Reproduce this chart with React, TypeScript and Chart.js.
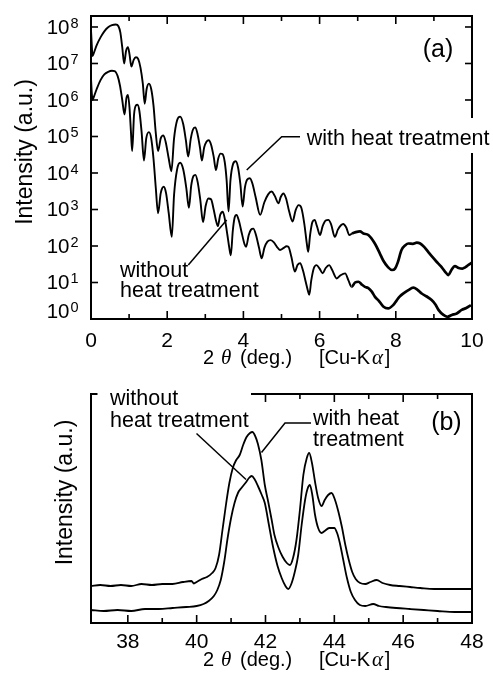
import React, { useEffect, useRef } from 'react';
import { Chart, registerables } from 'chart.js';
Chart.register(...registerables);

// ---------- Panel (a): low-angle XRR, log intensity ----------
const xrrAngleWith = [0, 0.02, 0.04, 0.08, 0.15, 0.25, 0.35, 0.45, 0.55, 0.65, 0.72, 0.77, 0.82, 0.87, 0.92, 0.97, 1.01, 1.06, 1.12, 1.18, 1.24, 1.3, 1.36, 1.41, 1.46, 1.52, 1.58, 1.64, 1.7, 1.76, 1.83, 1.9, 1.96, 2.04, 2.11, 2.18, 2.26, 2.34, 2.42, 2.49, 2.55, 2.62, 2.68, 2.74, 2.8, 2.86, 2.91, 2.97, 3.03, 3.09, 3.15, 3.22, 3.28, 3.34, 3.4, 3.45, 3.51, 3.56, 3.61, 3.66, 3.73, 3.8, 3.86, 3.92, 3.98, 4.04, 4.1, 4.17, 4.24, 4.32, 4.44, 4.55, 4.65, 4.74, 4.82, 4.92, 4.98, 5.05, 5.12, 5.2, 5.29, 5.37, 5.45, 5.52, 5.6, 5.66, 5.7, 5.75, 5.81, 5.87, 5.93, 6.01, 6.08, 6.16, 6.23, 6.3, 6.4, 6.48, 6.56, 6.62, 6.7, 6.78, 6.85, 6.95, 7.06, 7.15, 7.28, 7.45, 7.58, 7.67, 7.8, 7.9, 7.98, 8.05, 8.15, 8.25, 8.33, 8.45, 8.55, 8.64, 8.75, 8.85, 8.96, 9.07, 9.18, 9.29, 9.38, 9.46, 9.55, 9.65, 9.75, 9.82, 9.9, 10];
const xrrIntensityWith = [8.3e7, 3.2e7, 1.6e7, 2.0e7, 3.2e7, 5.2e7, 7.6e7, 9.8e7, 1.12e8, 1.17e8, 1.05e8, 7.1e7, 2.8e7, 1.0e7, 2.2e7, 2.8e7, 1.8e7, 8.3e6, 1.26e7, 1.48e7, 1.32e7, 7.6e6, 2.8e6, 7.9e5, 2.0e6, 2.8e6, 2.0e6, 7.1e5, 1.26e5, 4.0e4, 8.9e4, 1.07e5, 7.1e4, 2.5e4, 1.12e4, 8.9e4, 2.8e5, 3.5e5, 2.2e5, 7.9e4, 2.8e4, 8.9e4, 1.58e5, 1.78e5, 1.12e5, 5.0e4, 2.2e4, 5.0e4, 7.2e4, 7.9e4, 6.0e4, 2.8e4, 1.2e4, 2.5e4, 3.4e4, 3.3e4, 2.0e4, 6.3e3, 8.9e2, 6.3e3, 1.78e4, 2.1e4, 1.41e4, 5.0e3, 1.2e3, 4.0e3, 6.6e3, 7.2e3, 5.0e3, 2.2e3, 7.1e2, 1.58e3, 2.6e3, 3.1e3, 2.4e3, 1.48e3, 2.2e3, 2.75e3, 2.0e3, 8.9e2, 4.7e2, 9.5e2, 1.32e3, 1.12e3, 4.0e2, 1.26e2, 69, 2.0e2, 4.5e2, 5.2e2, 3.5e2, 2.0e2, 3.5e2, 5.0e2, 5.2e2, 4.0e2, 1.78e2, 2.8e2, 3.7e2, 4.0e2, 3.2e2, 2.0e2, 2.2e2, 2.4e2, 2.5e2, 2.2e2, 2.0e2, 1.17e2, 63, 40, 26, 22, 24, 35, 78, 105, 117, 115, 123, 117, 93, 69, 50, 37, 28, 20, 16, 22, 28, 25, 24, 26, 30, 35];

const xrrAngleWithout = [0, 0.02, 0.04, 0.08, 0.15, 0.25, 0.35, 0.45, 0.55, 0.62, 0.7, 0.76, 0.82, 0.88, 0.93, 0.97, 1.01, 1.05, 1.08, 1.13, 1.18, 1.22, 1.27, 1.33, 1.39, 1.45, 1.52, 1.58, 1.64, 1.7, 1.76, 1.83, 1.91, 1.97, 2.04, 2.12, 2.18, 2.26, 2.34, 2.42, 2.5, 2.57, 2.63, 2.69, 2.74, 2.8, 2.87, 2.94, 3.01, 3.08, 3.15, 3.22, 3.28, 3.33, 3.39, 3.46, 3.52, 3.58, 3.63, 3.67, 3.72, 3.77, 3.82, 3.88, 3.96, 4.03, 4.07, 4.14, 4.2, 4.26, 4.33, 4.41, 4.48, 4.55, 4.63, 4.72, 4.8, 4.88, 4.96, 5.06, 5.13, 5.18, 5.26, 5.35, 5.42, 5.49, 5.56, 5.64, 5.7, 5.73, 5.78, 5.85, 5.92, 6.0, 6.08, 6.16, 6.25, 6.33, 6.45, 6.55, 6.67, 6.76, 6.84, 6.93, 7.02, 7.1, 7.19, 7.27, 7.37, 7.45, 7.55, 7.67, 7.8, 7.93, 8.02, 8.1, 8.22, 8.33, 8.46, 8.57, 8.68, 8.8, 8.94, 9.04, 9.12, 9.25, 9.36, 9.47, 9.6, 9.73, 9.85, 9.97];
const xrrIntensityWithout = [4.0e6, 1.58e6, 1.0e6, 1.26e6, 2.0e6, 3.5e6, 5.0e6, 5.9e6, 6.3e6, 6.2e6, 4.5e6, 2.5e6, 1.0e6, 4.0e5, 1.12e6, 1.38e6, 6.3e5, 1.26e5, 4.0e4, 4.0e5, 7.1e5, 7.4e5, 5.0e5, 1.26e5, 2.2e4, 8.9e4, 1.32e5, 8.9e4, 2.5e4, 4.0e3, 7.9e2, 2.8e3, 4.2e3, 2.8e3, 7.9e2, 1.78e2, 2.5e3, 1.26e4, 1.9e4, 1.26e4, 4.0e3, 1.12e3, 4.5e3, 8.3e3, 8.9e3, 5.6e3, 1.78e3, 4.5e2, 1.26e3, 2.0e3, 1.9e3, 1.0e3, 5.0e2, 3.5e2, 7.1e2, 8.7e2, 5.0e2, 2.0e2, 89, 56, 2.5e2, 6.0e2, 7.1e2, 5.0e2, 2.2e2, 1.12e2, 95, 2.0e2, 2.8e2, 3.0e2, 2.0e2, 89, 46, 89, 1.32e2, 1.45e2, 1.26e2, 95, 78, 89, 98, 95, 50, 20, 30, 34, 22, 10, 5.6, 4.6, 11.2, 25, 30, 24, 17.8, 25, 30, 22, 12.9, 15.8, 17.8, 11.2, 7.6, 10, 10.5, 8.9, 7.6, 7.1, 5.6, 4.1, 3.2, 2.2, 1.95, 2.4, 3.2, 4.1, 5.2, 6.2, 7.2, 6.3, 5.0, 4.2, 3.3, 2.5, 1.78, 1.29, 1.15, 1.29, 1.41, 1.78, 2.0, 2.4];

const xrrMinorTicks = [1, 2, 3, 4, 5, 6, 7, 8, 9];
const xrrTickLabels = [0, 2, 4, 6, 8, 10];
const xrrDecadeExponents = [0, 1, 2, 3, 4, 5, 6, 7, 8];

// ---------- Panel (b): XRD, linear intensity ----------
const xrdAngleWith = [36.93, 37.2, 37.5, 37.8, 38.1, 38.4, 38.7, 39.0, 39.3, 39.6, 39.85, 39.92, 40.0, 40.15, 40.3, 40.45, 40.55, 40.65, 40.75, 40.85, 40.95, 41.05, 41.15, 41.25, 41.35, 41.45, 41.55, 41.62, 41.7, 41.78, 41.88, 41.98, 42.08, 42.18, 42.26, 42.38, 42.5, 42.62, 42.71, 42.8, 42.9, 43.0, 43.1, 43.2, 43.27, 43.35, 43.44, 43.53, 43.63, 43.72, 43.82, 43.92, 44.02, 44.12, 44.22, 44.32, 44.42, 44.52, 44.62, 44.75, 44.9, 45.05, 45.23, 45.4, 45.62, 45.9, 46.2, 46.5, 46.9, 47.3, 47.7, 48.0];
const xrdIntensityWith = [37, 38, 37, 38, 37, 39, 38, 39, 39, 41, 42, 39.5, 41, 44, 46, 50, 55, 68, 93, 118, 140, 155, 163, 168, 178, 186, 190, 191, 187, 179, 163, 138, 121, 103, 88, 75, 66, 60, 58, 65, 83, 113, 148, 165, 170, 160, 141, 125, 117, 123, 128, 130, 123, 111, 96, 78, 63, 51, 44, 40, 39, 41, 43, 40, 38, 37, 36, 35, 34, 34, 34, 34];

const xrdAngleWithout = [36.93, 37.3, 37.7, 38.1, 38.5, 38.9, 39.3, 39.7, 40.0, 40.2, 40.35, 40.5, 40.6, 40.7, 40.8, 40.9, 41.0, 41.1, 41.2, 41.3, 41.44, 41.52, 41.6, 41.68, 41.78, 41.88, 41.98, 42.1, 42.22, 42.35, 42.47, 42.58, 42.66, 42.75, 42.85, 42.95, 43.05, 43.15, 43.22, 43.29, 43.36, 43.44, 43.53, 43.63, 43.72, 43.85, 44.0, 44.08, 44.16, 44.26, 44.36, 44.48, 44.6, 44.74, 44.9, 45.13, 45.3, 45.5, 45.8, 46.2, 46.6, 47.0, 47.5, 48.0];
const xrdIntensityWithout = [13, 12, 13, 12, 14, 14, 15, 16, 17, 19, 22, 27, 33, 43, 61, 85, 105, 120, 130, 135, 141, 145, 147, 144, 137, 129, 120, 98, 76, 57, 45, 37, 34, 39, 51, 68, 98, 123, 134, 138, 128, 108, 95, 90, 92, 95, 95, 90, 80, 63, 46, 31, 23, 18, 17, 19, 17, 16, 15, 14, 13, 12, 11, 11];

const xrdMinorTicks = [38, 39, 40, 41, 42, 43, 44, 45, 46, 47];
const xrdTickLabels = [38, 40, 42, 44, 46, 48];

// ---------- drawing helpers ----------
const SANS = "'Liberation Sans', Arial, Helvetica, sans-serif";
const SERIF = "'Liberation Serif', 'DejaVu Serif', serif";
const f = (px: number) => `${px}px ${SANS}`;

function seg(ctx: CanvasRenderingContext2D, x1: number, y1: number, x2: number, y2: number) {
  ctx.beginPath();
  ctx.moveTo(x1, y1);
  ctx.lineTo(x2, y2);
  ctx.stroke();
}

function text(ctx: CanvasRenderingContext2D, s: string, x: number, y: number, font: string, align: CanvasTextAlign = 'left') {
  ctx.font = font;
  ctx.textAlign = align;
  ctx.textBaseline = 'alphabetic';
  ctx.fillText(s, x, y);
}

function xTitle(ctx: CanvasRenderingContext2D, baseline: number) {
  const up = f(20);
  const it = `italic 21px ${SERIF}`;
  text(ctx, '2', 203, baseline, up);
  text(ctx, 'θ', 221, baseline, it);
  text(ctx, '(deg.)', 240, baseline, up);
  text(ctx, '[Cu-K', 319, baseline, up);
  ctx.font = up;
  const w1 = ctx.measureText('[Cu-K').width;
  const ax = 319 + w1 + 2;
  text(ctx, 'α', ax, baseline, it);
  ctx.font = it;
  const w2 = ctx.measureText('α').width;
  text(ctx, ']', ax + w2 + 1.5, baseline, up);
}

function yTitle(ctx: CanvasRenderingContext2D, x: number, cy: number) {
  ctx.save();
  ctx.translate(x, cy);
  ctx.rotate(-Math.PI / 2);
  text(ctx, 'Intensity (a.u.)', 0, 0, f(23), 'center');
  ctx.restore();
}

const panelAPlugin = {
  id: 'panelA',
  afterDraw(chart: any) {
    const ctx: CanvasRenderingContext2D = chart.ctx;
    const a = chart.chartArea;
    const xs = chart.scales.x;
    const ys = chart.scales.y;
    ctx.save();
    ctx.strokeStyle = '#000';
    ctx.fillStyle = '#000';
    ctx.lineCap = 'butt';
    ctx.lineWidth = 1.6;
    for (const v of xrrMinorTicks) {
      const px = xs.getPixelForValue(v);
      const len = v % 2 === 0 ? 8 : 5;
      seg(ctx, px, a.bottom, px, a.bottom - len);
      seg(ctx, px, a.top, px, a.top + len);
    }
    for (const e of xrrDecadeExponents) {
      if (e === 0) continue;
      const py = ys.getPixelForValue(Math.pow(10, e));
      seg(ctx, a.left, py, a.left + 7, py);
      seg(ctx, a.right, py, a.right - 7, py);
    }
    ctx.lineWidth = 2;
    ctx.strokeRect(a.left, a.top, a.right - a.left, a.bottom - a.top);
    for (const e of xrrDecadeExponents) {
      const py = ys.getPixelForValue(Math.pow(10, e));
      const lift = e === 0 ? -8 : 0;
      text(ctx, '10', 69.5, py + 7 + lift, f(20.5), 'right');
      text(ctx, String(e), 70.5, py + 1 + lift, f(14.5), 'left');
    }
    for (const v of xrrTickLabels) {
      text(ctx, String(v), xs.getPixelForValue(v), 346.5, f(21), 'center');
    }
    yTitle(ctx, 32, 152);
    xTitle(ctx, 364);
    text(ctx, '(a)', 453.3, 56.5, f(25), 'right');
    ctx.fillStyle = '#fff';
    ctx.fillRect(303, 118, 190, 35);
    ctx.fillStyle = '#000';
    text(ctx, 'with heat treatment', 306.7, 144.5, f(21.5));
    ctx.lineWidth = 1.5;
    ctx.beginPath();
    ctx.moveTo(300, 136.7);
    ctx.lineTo(281.7, 136.7);
    ctx.lineTo(246.7, 170);
    ctx.stroke();
    text(ctx, 'without', 120, 276.7, f(21.5));
    text(ctx, 'heat treatment', 120, 296.7, f(21.5));
    seg(ctx, 188.3, 265, 226.7, 220);
    ctx.restore();
  },
};

const panelBPlugin = {
  id: 'panelB',
  afterDraw(chart: any) {
    const ctx: CanvasRenderingContext2D = chart.ctx;
    const a = chart.chartArea;
    const xs = chart.scales.x;
    ctx.save();
    ctx.strokeStyle = '#000';
    ctx.fillStyle = '#000';
    ctx.lineWidth = 1.6;
    for (const v of xrdMinorTicks) {
      const px = xs.getPixelForValue(v);
      const len = v % 2 === 0 ? 8 : 5;
      seg(ctx, px, a.bottom, px, a.bottom - len);
      seg(ctx, px, a.top, px, a.top + len);
    }
    ctx.lineWidth = 2;
    ctx.strokeRect(a.left, a.top, a.right - a.left, a.bottom - a.top);
    for (const v of xrdTickLabels) {
      text(ctx, String(v), xs.getPixelForValue(v), 273, f(21), 'center');
    }
    yTitle(ctx, 72, 117.5);
    xTitle(ctx, 291);
    text(ctx, '(b)', 461.7, 55, f(25), 'right');
    ctx.fillStyle = '#fff';
    ctx.fillRect(97.5, 11, 153.5, 44);
    ctx.fillStyle = '#000';
    text(ctx, 'without', 110, 30, f(21.5));
    text(ctx, 'heat treatment', 110, 51.5, f(21.5));
    ctx.lineWidth = 1.5;
    seg(ctx, 196.5, 58.5, 246, 104.5);
    text(ctx, 'with heat', 313, 50, f(21.5));
    text(ctx, 'treatment', 313, 71, f(21.5));
    ctx.beginPath();
    ctx.moveTo(311, 48);
    ctx.lineTo(285, 48);
    ctx.lineTo(261.5, 77.5);
    ctx.stroke();
    ctx.restore();
  },
};

function lineDataset(xs: number[], ys: number[], noisyFrom: number, base: number, thick: number) {
  return {
    data: xs.map((x, i) => ({ x, y: ys[i] })),
    borderColor: '#000',
    borderWidth: base,
    pointRadius: 0,
    fill: false,
    cubicInterpolationMode: 'monotone' as const,
    segment: {
      borderWidth: (c: any) => (c.p0.parsed.x >= noisyFrom ? thick : base),
    },
  };
}

export default function App() {
  const refA = useRef<HTMLCanvasElement>(null);
  const refB = useRef<HTMLCanvasElement>(null);

  useEffect(() => {
    const common = {
      responsive: false,
      animation: false as const,
      devicePixelRatio: 1,
      events: [] as any[],
      plugins: { legend: { display: false }, tooltip: { enabled: false } },
    };
    const chartA = new Chart(refA.current as HTMLCanvasElement, {
      type: 'line',
      data: {
        datasets: [
          lineDataset(xrrAngleWith, xrrIntensityWith, 6.8, 1.9, 2.7) as any,
          lineDataset(xrrAngleWithout, xrrIntensityWithout, 6.8, 1.9, 2.7) as any,
        ],
      },
      options: {
        ...common,
        layout: { padding: { left: 0, top: 16, right: 21, bottom: 0 } },
        scales: {
          x: {
            type: 'linear', min: 0, max: 10,
            grid: { display: false }, border: { display: false }, ticks: { display: false },
            afterFit: (s: any) => { s.height = 56; },
          },
          y: {
            type: 'logarithmic', min: 1, max: 2e8,
            grid: { display: false }, border: { display: false }, ticks: { display: false },
            afterFit: (s: any) => { s.width = 91; },
          },
        },
      } as any,
      plugins: [panelAPlugin],
    });
    const chartB = new Chart(refB.current as HTMLCanvasElement, {
      type: 'line',
      data: {
        datasets: [
          lineDataset(xrdAngleWith, xrdIntensityWith, 0, 1.8, 1.8) as any,
          lineDataset(xrdAngleWithout, xrdIntensityWithout, 0, 1.8, 1.8) as any,
        ],
      },
      options: {
        ...common,
        layout: { padding: { left: 0, top: 19, right: 21, bottom: 0 } },
        scales: {
          x: {
            type: 'linear', min: 36.93, max: 48,
            grid: { display: false }, border: { display: false }, ticks: { display: false },
            afterFit: (s: any) => { s.height = 56; },
          },
          y: {
            type: 'linear', min: 0, max: 229,
            grid: { display: false }, border: { display: false }, ticks: { display: false },
            afterFit: (s: any) => { s.width = 91; },
          },
        },
      } as any,
      plugins: [panelBPlugin],
    });
    return () => {
      chartA.destroy();
      chartB.destroy();
    };
  }, []);

  return (
    <div style={{ position: 'absolute', left: 0, top: 0, width: 493, height: 679, background: '#fff' }}>
      <canvas ref={refA} width={493} height={375} style={{ position: 'absolute', left: 0, top: 0, width: 493, height: 375 }} />
      <canvas ref={refB} width={493} height={304} style={{ position: 'absolute', left: 0, top: 375, width: 493, height: 304 }} />
    </div>
  );
}
